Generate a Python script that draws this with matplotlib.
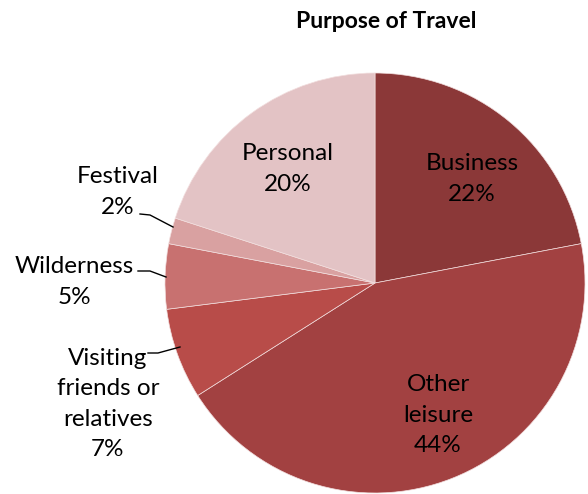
import matplotlib
matplotlib.use("Agg")
import matplotlib.pyplot as plt

# Purpose of travel shares (percent), clockwise from 12 o'clock
categories = ["Business", "Other\nleisure", "Visiting\nfriends or\nrelatives",
              "Wilderness", "Festival", "Personal"]
shares = [22, 44, 7, 5, 2, 20]
colors = ["#8B3838", "#A24141", "#B84C49", "#C87170", "#D9A1A1", "#E3C3C5"]

plt.rcParams["font.family"] = ["Lato", "DejaVu Sans"]

fig = plt.figure(figsize=(5.88, 4.94), dpi=100)
ax = fig.add_axes([0, 0, 1, 1])

cx, cy, r = 375, 211, 210
ax.pie(shares, colors=colors, startangle=90, counterclock=False,
       center=(cx, cy), radius=r, frame=True,
       wedgeprops=dict(edgecolor="#f2dede", linewidth=0.5))
ax.set_xlim(0, 588)
ax.set_ylim(0, 494)
ax.set_aspect("equal")
ax.axis("off")

labels = [f"{c}\n{s}%" for c, s in zip(categories, shares)]
fs = 17.5
ls = 1.55
# inside labels
ax.text(472, 494 - 179, labels[0], ha="center", va="center", fontsize=fs, linespacing=ls)
ax.text(438, 494 - 415, labels[1], ha="center", va="center", fontsize=fs, linespacing=ls)
ax.text(288, 494 - 169, labels[5], ha="center", va="center", fontsize=fs, linespacing=ls)
# outside labels with leader lines
ax.text(108, 494 - 404, labels[2], ha="center", va="center", fontsize=fs, linespacing=ls)
ax.text(74, 494 - 282, labels[3], ha="center", va="center", fontsize=fs, linespacing=ls)
ax.text(118, 494 - 192, labels[4], ha="center", va="center", fontsize=fs, linespacing=ls)

ax.plot([140, 150, 173], [494 - 214, 494 - 215, 494 - 227], color="black", lw=1)
ax.plot([138, 150, 166], [494 - 271, 494 - 271, 494 - 277], color="black", lw=1)
ax.plot([148, 158, 180], [494 - 353, 494 - 353, 494 - 347], color="black", lw=1)

ax.text(386, 494 - 22, "Purpose of Travel", ha="center", va="center",
        fontsize=16.5, fontweight="bold")

fig.savefig("out.png", dpi=100)
